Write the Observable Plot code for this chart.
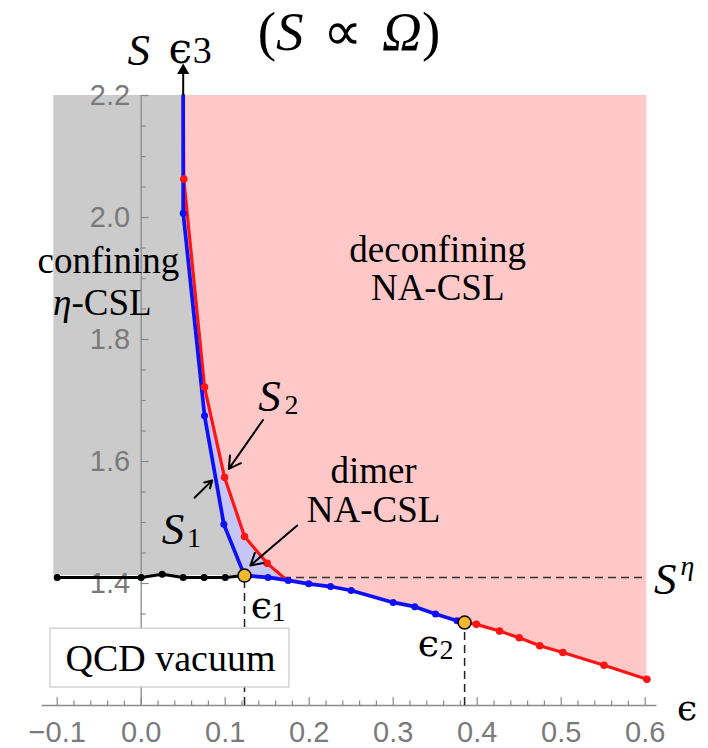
<!DOCTYPE html>
<html><head><meta charset="utf-8">
<script src="https://cdn.jsdelivr.net/npm/d3@7"></script>
<script src="https://cdn.jsdelivr.net/npm/@observablehq/plot@0.6"></script>
<style>
html,body{margin:0;padding:0;background:#fff;}
#wrap{position:relative;width:708px;height:748px;}
#title{position:absolute;left:0;top:4px;width:698px;text-align:center;font-family:"Liberation Serif",serif;font-size:55px;line-height:55px;word-spacing:6px;z-index:2;}
</style></head><body>
<div id="wrap"><div id="title">(<i>S</i> ∝ <i>Ω</i>)</div></div>
<script>
// ---- data ----
const s1Eps = [0.05, 0.05, 0.0754, 0.0984, 0.123, 0.151, 0.175, 0.1995, 0.2254, 0.25, 0.30, 0.3257, 0.3504, 0.376, 0.385];
const s1Val = [2.20, 2.007, 1.675, 1.497, 1.413, 1.410, 1.405, 1.3995, 1.395, 1.3885, 1.369, 1.362, 1.350, 1.339, 1.336];
const s2Eps = [0.05, 0.0507, 0.0754, 0.0992, 0.123, 0.150, 0.172];
const s2Val = [2.20, 2.063, 1.722, 1.574, 1.477, 1.433, 1.407];
const redEps = [0.385, 0.399, 0.4266, 0.450, 0.4745, 0.502, 0.551, 0.602];
const redVal = [1.336, 1.333, 1.322, 1.311, 1.298, 1.287, 1.266, 1.243];
const etaEps = [-0.1, 0, 0.025, 0.05, 0.075, 0.1, 0.123];
const etaVal = [1.41, 1.41, 1.415, 1.41, 1.41, 1.41, 1.413];
const criticalEps = [0.123, 0.385];
const criticalVal = [1.413, 1.336];
const sEta = 1.41, eps3 = 0.05;
const xTicks = [-0.1, 0.0, 0.1, 0.2, 0.3, 0.4, 0.5, 0.6];
const yTicks = [1.4, 1.6, 1.8, 2.0, 2.2];

const zip = (e, v) => e.map((d, i) => ({eps: d, s: v[i]}));
const s1 = zip(s1Eps, s1Val), s2 = zip(s2Eps, s2Val), red = zip(redEps, redVal), eta = zip(etaEps, etaVal);
const crit = zip(criticalEps, criticalVal);

const grayPts = s1.filter(d => d.eps <= criticalEps[0]);
const lavPts = s1.filter(d => d.eps <= 0.175);
const pinkPts = [...s2, ...s1.filter(d => d.eps > 0.172), ...red.filter(d => d.eps > criticalEps[1])];

const xMinor = d3.range(-5, 31).map(i => +(i * 0.02).toFixed(2)).filter(v => !xTicks.some(t => Math.abs(t - v) < 1e-9));
const yMinor = d3.range(25, 44, 1).map(i => +(i * 0.05).toFixed(2)).filter(v => !yTicks.some(t => Math.abs(t - v) < 1e-9));
const fmt = d3.format(".1f");

const BLUE = "#1010f5", RED = "#ff1414", AX = "#8a8a8a", SERIF = "Liberation Serif, DejaVu Serif, serif";
const EPSF = "DejaVu Serif, serif";
const lab = (t, x, y, o = {}) => Plot.text([{x, y, t}], {x: "x", y: "y", text: "t", fontFamily: SERIF, fontSize: 37, fill: "black", ...o});

const plot = Plot.plot({
  width: 708, height: 748,
  marginLeft: 56.7, marginRight: 63.3, marginTop: 95, marginBottom: 43,
  x: {domain: [-0.1, 0.6], axis: null},
  y: {domain: [1.2, 2.2], axis: null},
  marks: [
    Plot.areaX(grayPts, {y: "s", x1: -0.104, x2: "eps", fill: "#cbcbcb"}),
    Plot.areaY(lavPts, {x: "eps", y1: "s", y2: 2.2, fill: "#c6c6f6"}),
    Plot.areaY(pinkPts, {x: "eps", y1: "s", y2: 2.2, fill: "#ffc8c8"}),
    // axes
    Plot.ruleX([0], {y1: 1.2, y2: 2.2, stroke: AX, strokeWidth: 1.3}),
    Plot.ruleY([1.2], {x1: -0.118, x2: 0.614, stroke: AX, strokeWidth: 1.3}),
    Plot.ruleX(xTicks, {x: d => d, y1: 1.2, y2: 1.2 + 8 / 610, stroke: AX, strokeWidth: 1.2}),
    Plot.ruleX(xMinor, {x: d => d, y1: 1.2, y2: 1.2 + 4.5 / 610, stroke: AX, strokeWidth: 1.2}),
    Plot.ruleY(yTicks, {y: d => d, x1: 0, x2: 8 / 840, stroke: AX, strokeWidth: 1.2}),
    Plot.ruleY(yMinor, {y: d => d, x1: 0, x2: 5 / 840, stroke: AX, strokeWidth: 1.2}),
    Plot.text(xTicks, {x: d => d, y: 1.2, dy: 27, text: d => fmt(d), fontFamily: "Liberation Sans, Arial, sans-serif", fontSize: 29, fill: "#7a7a7a"}),
    Plot.text(yTicks, {x: 0, y: d => d, dx: -11, textAnchor: "end", text: d => fmt(d), fontFamily: "Liberation Sans, Arial, sans-serif", fontSize: 29, fill: "#7a7a7a"}),
    // dashed guide lines
    Plot.ruleY([sEta], {x1: criticalEps[0], x2: 0.602, stroke: "#333", strokeWidth: 1.5, strokeDasharray: "8,5"}),
    Plot.ruleX(crit, {x: "eps", y1: 1.2, y2: "s", stroke: "#222", strokeWidth: 1.5, strokeDasharray: "8,5"}),
    // curves
    Plot.line(eta, {x: "eps", y: "s", stroke: "black", strokeWidth: 3}),
    Plot.line(s2, {x: "eps", y: "s", stroke: RED, strokeWidth: 3.2}),
    Plot.line(red, {x: "eps", y: "s", stroke: RED, strokeWidth: 3.2}),
    Plot.line(s1, {x: "eps", y: "s", stroke: BLUE, strokeWidth: 3.7}),
    Plot.dot(eta, {x: "eps", y: "s", r: 3.5, fill: "black"}),
    Plot.dot(s2.slice(1, 6), {x: "eps", y: "s", r: 3.8, fill: RED}),
    Plot.dot(red.slice(1), {x: "eps", y: "s", r: 3.8, fill: RED}),
    Plot.dot(s1.slice(1), {x: "eps", y: "s", r: 3.5, fill: BLUE}),
    Plot.dot(crit, {x: "eps", y: "s", r: 6.5, fill: "#f4b730", stroke: "black", strokeWidth: 1.5}),
    // epsilon_3 arrow
    Plot.ruleX([eps3], {y1: 2.2, y2: 2.236, stroke: "black", strokeWidth: 2}),
    Plot.dot([eps3], {x: d => d, y: 2.241, symbol: "triangle", r: 4.5, fill: "black"}),
    // annotation arrows
    Plot.arrow([{x1: 0.145, y1: 1.668, x2: 0.1043, y2: 1.588}, {x1: 0.0635, y1: 1.5405, x2: 0.0845, y2: 1.569}, {x1: 0.1857, y1: 1.495, x2: 0.130, y2: 1.4295}],
      {x1: "x1", y1: "y1", x2: "x2", y2: "y2", stroke: "black", strokeWidth: 2, headLength: 10}),
    // labels
    lab("confining", -0.039, 1.928),
    lab("η", -0.083, 1.860, {fontStyle: "italic", textAnchor: "end"}),
    lab("-CSL", -0.083, 1.860, {textAnchor: "start"}),
    lab("deconfining", 0.353, 1.946),
    lab("NA-CSL", 0.353, 1.884),
    lab("dimer", 0.2766, 1.584),
    lab("NA-CSL", 0.2766, 1.520),
    lab("S", 0.1527, 1.707, {fontStyle: "italic", fontSize: 45}),
    lab("2", 0.1527, 1.707, {fontSize: 28, dx: 22, dy: 9}),
    lab("S", 0.0379, 1.489, {fontStyle: "italic", fontSize: 45}),
    lab("1", 0.0379, 1.489, {fontSize: 28, dx: 21, dy: 9}),
    lab("S", 0.624, 1.407, {fontStyle: "italic", fontSize: 45}),
    lab("η", 0.624, 1.407, {fontStyle: "italic", fontSize: 28, dx: 22, dy: -13}),
    lab("ϵ", 0.1432, 1.364, {fontFamily: EPSF, fontSize: 38}),
    lab("1", 0.1432, 1.364, {fontSize: 28, dx: 17, dy: 7}),
    lab("ϵ", 0.342, 1.3016, {fontFamily: EPSF, fontSize: 38}),
    lab("2", 0.342, 1.3016, {fontSize: 28, dx: 18, dy: 7}),
    lab("S", -0.003, 2.2744, {fontStyle: "italic", fontSize: 45}),
    lab("ϵ", 0.0465, 2.2754, {fontFamily: EPSF, fontSize: 42}),
    lab("3", 0.0465, 2.2754, {fontSize: 38, dx: 22, dy: 1}),
    lab("ϵ", 0.650, 1.195, {fontFamily: EPSF, fontSize: 36}),
    // QCD vacuum box
    Plot.rect([{x1: -0.108, x2: 0.1765, y1: 1.2295, y2: 1.326}], {x1: "x1", x2: "x2", y1: "y1", y2: "y2", fill: "white", stroke: "#c8c8c8", strokeWidth: 1.2}),
    lab("QCD vacuum", 0.0349, 1.276, {fontSize: 38})
  ]
});
document.getElementById("wrap").prepend(plot);
</script></body></html>
